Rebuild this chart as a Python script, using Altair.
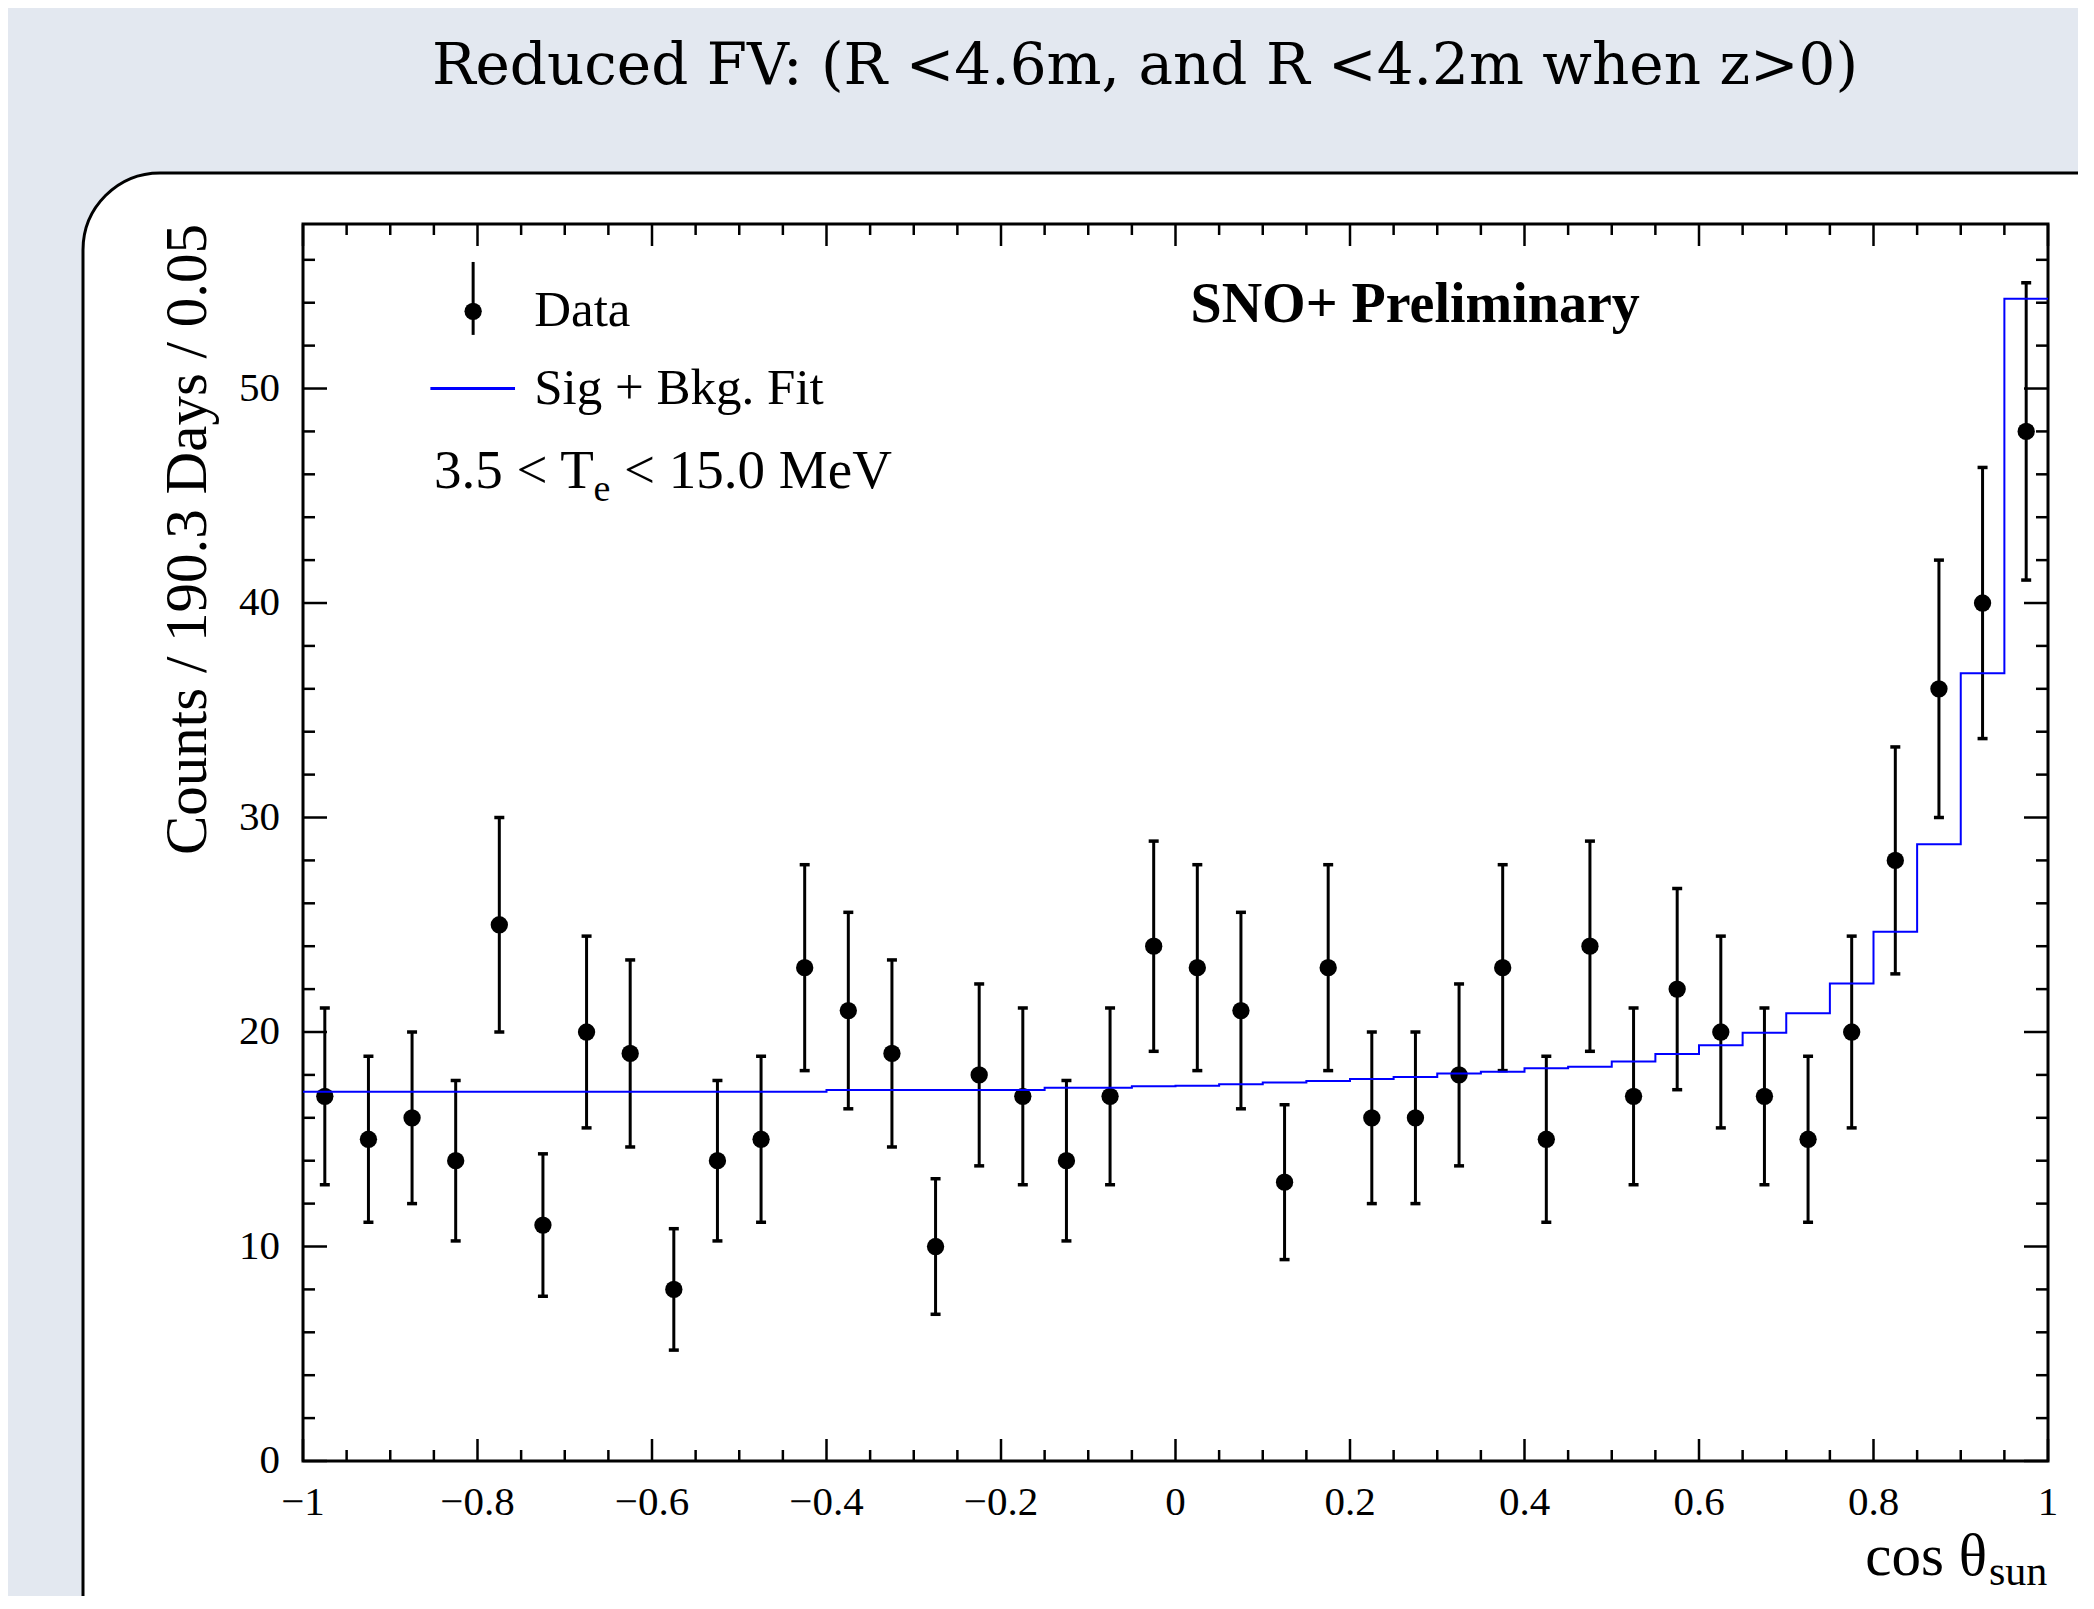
import altair as alt
import pandas as pd

# ---------------- data ----------------
bin_centers = [-0.975, -0.925, -0.875, -0.825, -0.775, -0.725, -0.675, -0.625,
               -0.575, -0.525, -0.475, -0.425, -0.375, -0.325, -0.275, -0.225,
               -0.175, -0.125, -0.075, -0.025, 0.025, 0.075, 0.125, 0.175,
               0.225, 0.275, 0.325, 0.375, 0.425, 0.475, 0.525, 0.575,
               0.625, 0.675, 0.725, 0.775, 0.825, 0.875, 0.925, 0.975]
counts = [17, 15, 16, 14, 25, 11, 20, 19, 8, 14, 15, 23, 21, 19, 10, 18, 17, 14, 17, 24,
          23, 21, 13, 23, 16, 16, 18, 23, 15, 24, 17, 22, 20, 17, 15, 20, 28, 36, 40, 48]
errors = [4.12, 3.87, 4.00, 3.74, 5.00, 3.32, 4.47, 4.36, 2.83, 3.74, 3.87, 4.80, 4.58, 4.36,
          3.16, 4.24, 4.12, 3.74, 4.12, 4.90, 4.80, 4.58, 3.61, 4.80, 4.00, 4.00, 4.24, 4.80,
          3.87, 4.90, 4.12, 4.69, 4.47, 4.12, 3.87, 4.47, 5.29, 6.00, 6.32, 6.93]
fit_edges = [-1.0, -0.95, -0.9, -0.85, -0.8, -0.75, -0.7, -0.65, -0.6, -0.55, -0.5, -0.45,
             -0.4, -0.35, -0.3, -0.25, -0.2, -0.15, -0.1, -0.05, 0.0, 0.05, 0.1, 0.15, 0.2,
             0.25, 0.3, 0.35, 0.4, 0.45, 0.5, 0.55, 0.6, 0.65, 0.7, 0.75, 0.8, 0.85, 0.9,
             0.95, 1.0]
fit_values = [17.22, 17.22, 17.22, 17.22, 17.22, 17.22, 17.22, 17.22, 17.22, 17.22, 17.22,
              17.22, 17.30, 17.30, 17.30, 17.30, 17.30, 17.40, 17.40, 17.47, 17.50, 17.56,
              17.65, 17.72, 17.81, 17.90, 18.06, 18.15, 18.31, 18.38, 18.63, 18.97, 19.38,
              19.96, 20.87, 22.26, 24.67, 28.75, 36.73, 54.19]

x_major_ticks = [-1.0, -0.8, -0.6, -0.4, -0.2, 0.0, 0.2, 0.4, 0.6, 0.8, 1.0]
x_major_labels = ["\u22121", "\u22120.8", "\u22120.6", "\u22120.4", "\u22120.2", "0",
                  "0.2", "0.4", "0.6", "0.8", "1"]
y_major_ticks = [0, 10, 20, 30, 40, 50]
y_major_labels = ["0", "10", "20", "30", "40", "50"]

title_text = "Reduced FV: (R <4.6m, and R <4.2m when z>0)"
y_title = "Counts / 190.3 Days / 0.05"

# ---------------- layout constants ----------------
W, H = 2070, 1588
FL, FR, FT, FB = 295, 2040, 216, 1453     # plot frame in canvas pixels
YMAX = 57.67
SERIF = "Liberation Serif"

X = alt.Scale(domain=[-1, 1], range=[FL, FR], nice=False, zero=False)
Y = alt.Scale(domain=[0, YMAX], range=[FB, FT], nice=False, zero=False)

x_minor = [round(-1 + 0.05 * i, 2) for i in range(41)]
x_minor = [v for v in x_minor if all(abs(v - m) > 1e-6 for m in x_major_ticks)]
y_minor = [v for v in range(2, 58, 2) if v % 10 != 0]

one = pd.DataFrame({"a": [0]})

data_df = pd.DataFrame({
    "c": bin_centers,
    "n": counts,
    "lo": [n - e for n, e in zip(counts, errors)],
    "hi": [n + e for n, e in zip(counts, errors)],
})
fit_df = pd.DataFrame({"edge": fit_edges, "val": fit_values + [fit_values[-1]]})


def xq(f):
    return alt.X(f, type="quantitative", scale=X, axis=None)


def yq(f):
    return alt.Y(f, type="quantitative", scale=Y, axis=None)


# panel (white rounded box)
panel = alt.Chart(one).mark_rect(
    fill="white", stroke="black", strokeWidth=3, cornerRadius=77
).encode(x=alt.value(75), x2=alt.value(2200), y=alt.value(165), y2=alt.value(1700))

# main title
title = alt.Chart(one).mark_text(
    text=title_text, font="DejaVu Serif", fontSize=58, align="center",
    baseline="middle", color="black"
).encode(x=alt.value(1137), y=alt.value(59))

# frame
frame_df = pd.DataFrame({"x0": [-1.0], "x1": [1.0], "y0": [0.0], "y1": [YMAX]})
frame = alt.Chart(frame_df).mark_rect(
    fillOpacity=0, stroke="black", strokeWidth=3
).encode(x=xq("x0"), x2=alt.X2("x1"), y=yq("y0"), y2=alt.Y2("y1"))

# ticks
xmaj = pd.DataFrame({"t": x_major_ticks, "lab": x_major_labels})
xmin = pd.DataFrame({"t": x_minor})
ymaj = pd.DataFrame({"t": y_major_ticks, "lab": y_major_labels})
ymin = pd.DataFrame({"t": y_minor})

XMAJ, XMIN, YMAJ, YMIN = 22, 11, 24, 12
tick_layers = []
for df, ln in [(xmaj, XMAJ), (xmin, XMIN)]:
    tick_layers.append(alt.Chart(df).mark_rule(color="black", strokeWidth=2.5).encode(
        x=xq("t"), y=alt.value(FB), y2=alt.value(FB - ln)))
    tick_layers.append(alt.Chart(df).mark_rule(color="black", strokeWidth=2.5).encode(
        x=xq("t"), y=alt.value(FT), y2=alt.value(FT + ln)))
for df, ln in [(ymaj, YMAJ), (ymin, YMIN)]:
    tick_layers.append(alt.Chart(df).mark_rule(color="black", strokeWidth=2.5).encode(
        y=yq("t"), x=alt.value(FL), x2=alt.value(FL + ln)))
    tick_layers.append(alt.Chart(df).mark_rule(color="black", strokeWidth=2.5).encode(
        y=yq("t"), x=alt.value(FR), x2=alt.value(FR - ln)))

xlabels = alt.Chart(xmaj).mark_text(
    font=SERIF, fontSize=41, align="center", baseline="alphabetic", color="black"
).encode(x=xq("t"), y=alt.value(1507), text="lab:N")
ylabels = alt.Chart(ymaj).mark_text(
    font=SERIF, fontSize=41, align="right", baseline="middle", color="black"
).encode(y=yq("t"), x=alt.value(272), text="lab:N")

# axis titles
ytitle = alt.Chart(one).mark_text(
    text=y_title, font=SERIF, fontSize=59, angle=270, align="right",
    baseline="alphabetic", color="black"
).encode(x=alt.value(198), y=alt.value(FT))
xtitle1 = alt.Chart(one).mark_text(
    text="cos \u03b8", font=SERIF, fontSize=59, align="right",
    baseline="alphabetic", color="black"
).encode(x=alt.value(1979), y=alt.value(1567))
xtitle2 = alt.Chart(one).mark_text(
    text="sun", font=SERIF, fontSize=42, align="left",
    baseline="alphabetic", color="black"
).encode(x=alt.value(1981), y=alt.value(1577))

# data points with error bars
ebar = alt.Chart(data_df).mark_rule(color="black", strokeWidth=3).encode(
    x=xq("c"), y=yq("lo"), y2=alt.Y2("hi"))
cap_hi = alt.Chart(data_df).mark_rule(color="black", strokeWidth=3.5, xOffset=-5, x2Offset=5).encode(
    x=xq("c"), x2=alt.X2("c"), y=yq("hi"))
cap_lo = alt.Chart(data_df).mark_rule(color="black", strokeWidth=3.5, xOffset=-5, x2Offset=5).encode(
    x=xq("c"), x2=alt.X2("c"), y=yq("lo"))
pts = alt.Chart(data_df).mark_circle(size=300, color="black", opacity=1).encode(
    x=xq("c"), y=yq("n"))

fit = alt.Chart(fit_df).mark_line(
    interpolate="step-after", color="#0000FF", strokeWidth=2
).encode(x=xq("edge"), y=yq("val"))

# legend and annotations (placed in data coordinates)
leg_pt_df = pd.DataFrame({"x": [-0.805], "y": [53.6], "lo": [52.5], "hi": [55.9]})
leg_bar = alt.Chart(leg_pt_df).mark_rule(color="black", strokeWidth=3).encode(
    x=xq("x"), y=yq("lo"), y2=alt.Y2("hi"))
leg_pt = alt.Chart(leg_pt_df).mark_circle(size=300, color="black", opacity=1).encode(
    x=xq("x"), y=yq("y"))
leg_line_df = pd.DataFrame({"x": [-0.854], "x2": [-0.757], "y": [50.0]})
leg_line = alt.Chart(leg_line_df).mark_rule(color="#0000FF", strokeWidth=3).encode(
    x=xq("x"), x2=alt.X2("x2"), y=yq("y"))

leg_txt_df = pd.DataFrame({"x": [-0.735, -0.735], "y": [53.6, 50.0],
                           "text": ["Data", "Sig + Bkg. Fit"]})
leg_txt = alt.Chart(leg_txt_df).mark_text(
    font=SERIF, fontSize=51, align="left", baseline="middle", color="black"
).encode(x=xq("x"), y=yq("y"), text="text:N")

ene_df = pd.DataFrame({"x": [-0.850, -0.632], "y": [45.36, 45.36],
                       "text": ["3.5 < T", "< 15.0 MeV"]})
ene_txt = alt.Chart(ene_df).mark_text(
    font=SERIF, fontSize=55, align="left", baseline="alphabetic", color="black"
).encode(x=xq("x"), y=yq("y"), text="text:N")
sub_df = pd.DataFrame({"x": [-0.667], "y": [44.75], "text": ["e"]})
sub_txt = alt.Chart(sub_df).mark_text(
    font=SERIF, fontSize=38, align="left", baseline="alphabetic", color="black"
).encode(x=xq("x"), y=yq("y"), text="text:N")

sno_df = pd.DataFrame({"x": [0.0172], "y": [53.1], "text": ["SNO+ Preliminary"]})
sno_txt = alt.Chart(sno_df).mark_text(
    font=SERIF, fontSize=56, fontWeight="bold", align="left", baseline="alphabetic",
    color="black"
).encode(x=xq("x"), y=yq("y"), text="text:N")

chart = alt.layer(
    panel, title, *tick_layers, frame, xlabels, ylabels, ytitle, xtitle1, xtitle2,
    ebar, cap_hi, cap_lo, pts, fit, leg_bar, leg_pt, leg_line, leg_txt,
    ene_txt, sub_txt, sno_txt
).properties(
    width=W, height=H, autosize=alt.AutoSizeParams(type="none"), padding=0
).configure(background="#E3E8F0").configure_view(stroke=None)

chart.save("out.html", embed_options={"renderer": "svg", "actions": False})
